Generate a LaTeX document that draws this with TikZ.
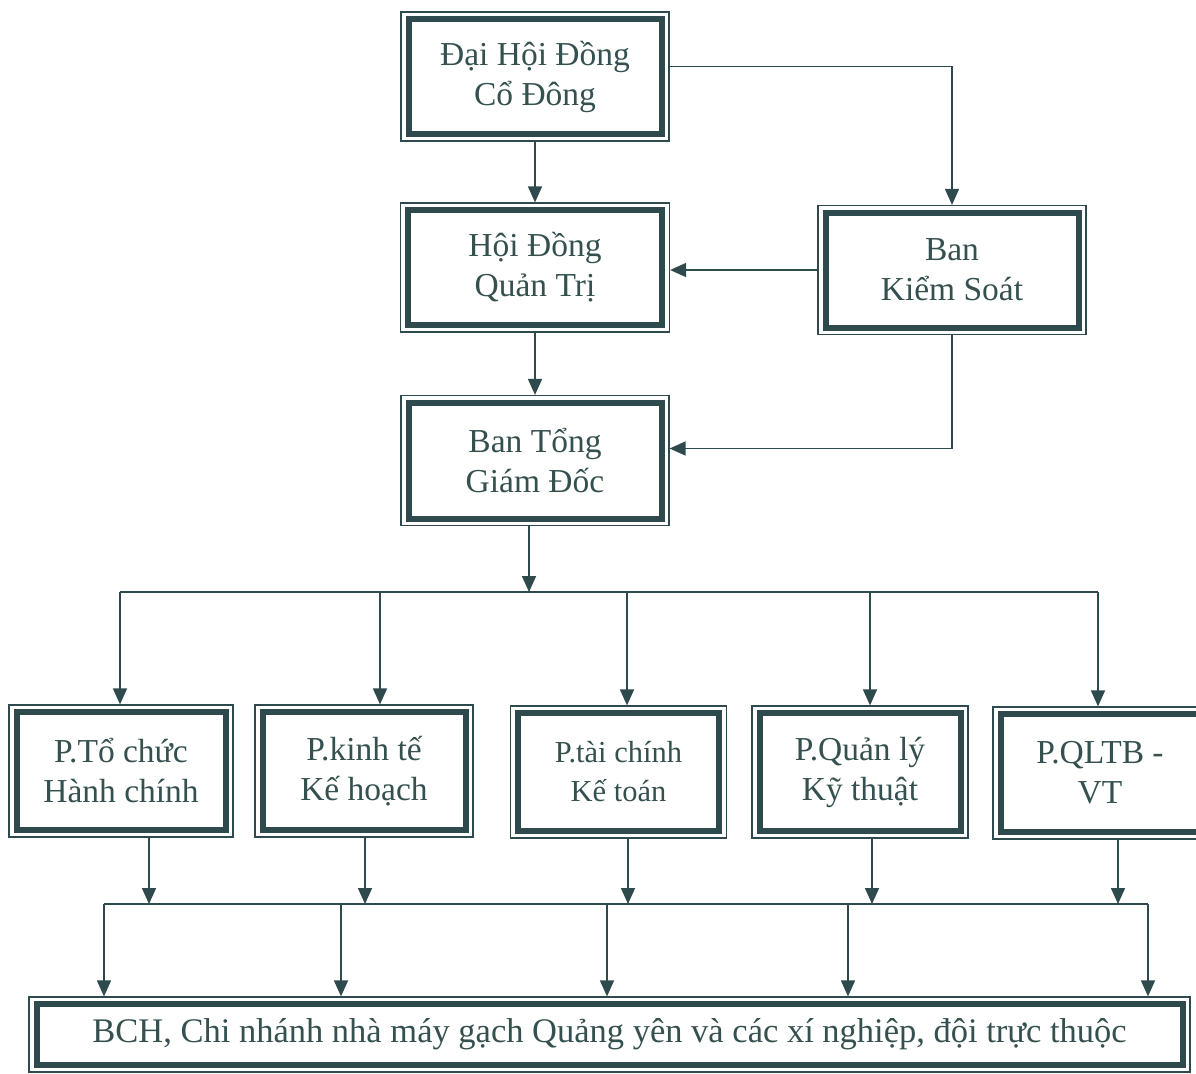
\documentclass[tikz,border=0pt]{standalone}
\usepackage{fontspec}
\setmainfont{Liberation Serif}
\usetikzlibrary{arrows.meta}
\definecolor{ink}{HTML}{2E4A4C}
\definecolor{txt}{HTML}{34504F}
\tikzset{
  box/.style={rectangle, draw=ink, line width=1.2pt, inner sep=0pt, align=center, text=txt,
    font=\fontsize{33.5}{40}\selectfont,
    path picture={\draw[ink, line width=6pt]
      ([shift={(7.5pt,-7pt)}]path picture bounding box.north west) rectangle
      ([shift={(-7.5pt,7pt)}]path picture bounding box.south east);}},
  e/.style={draw=ink, line width=1.6pt},
  arr/.style={e, -{Triangle[length=16pt, width=14pt]}},
}
\begin{document}
\begin{tikzpicture}[x=1pt, y=-1pt]
\useasboundingbox (0,0) rectangle (1196,1073);

% ---------------- top levels ----------------
\node[box, minimum width=268pt, minimum height=129pt] (dhd) at (535,76.5) {Đại Hội Đồng\\Cổ Đông};
\node[box, minimum width=269pt, minimum height=129pt] (hdqt) at (535,267.5) {Hội Đồng\\Quản Trị};
\node[box, minimum width=268pt, minimum height=129pt] (bks) at (952,270) {Ban\\Kiểm Soát};
\node[box, minimum width=268pt, minimum height=130pt] (btgd) at (535,460.5) {Ban Tổng\\Giám Đốc};

% ---------------- departments ----------------
\node[box, minimum width=224pt, minimum height=132pt] (p1) at (121,771) {P.Tổ chức\\Hành chính};
\node[box, minimum width=218pt, minimum height=132pt] (p2) at (364,771) {P.kinh tế\\Kế hoạch};
\node[box, minimum width=216pt, minimum height=132pt, font=\fontsize{30.5}{39}\selectfont] (p3) at (618.5,772) {P.tài chính\\Kế toán};
\node[box, minimum width=216pt, minimum height=132pt] (p4) at (860,772) {P.Quản lý\\Kỹ thuật};
\node[box, minimum width=214pt, minimum height=132pt] (p5) at (1100,773) {P.QLTB -\\VT};

% ---------------- bottom ----------------
\node[box, minimum width=1161pt, minimum height=75pt, font=\fontsize{34.5}{40}\selectfont] (bch) at (609.5,1034.5)
  {BCH, Chi nhánh nhà máy gạch Quảng yên và các xí nghiệp, đội trực thuộc};

% links between the top levels
\draw[arr] (dhd) -- (hdqt);
\draw[arr] ([yshift=10pt]dhd.east) -| (bks.north);
\draw[arr] (bks.west) -- (bks.west -| hdqt.east);
\draw[arr] (hdqt) -- (btgd);
\draw[arr] (bks.south) |- ([yshift=12pt]btgd.east);

% bus under Ban Tong Giam Doc
\coordinate (bt) at (529,592);
\foreach \x [count=\i] in {120,380,627,870,1098} \coordinate (t\i) at (\x,592);
\draw[e] (t1) -- (t5);
\draw[arr] (btgd.south -| bt) -- (bt);
\foreach \i in {1,...,5} \draw[arr] (t\i) -- (t\i |- p\i.north);

% bus above the bottom box
\foreach \x [count=\i] in {149,365,628,872,1118} \coordinate (u\i) at (\x,904);
\foreach \x [count=\i] in {104,341,607,848,1148} \coordinate (d\i) at (\x,904);
\draw[e] (d1) -- (d5);
\foreach \i in {1,...,5} {
  \draw[arr] (u\i |- p\i.south) -- (u\i);
  \draw[arr] (d\i) -- (d\i |- bch.north);
}
\end{tikzpicture}
\end{document}
